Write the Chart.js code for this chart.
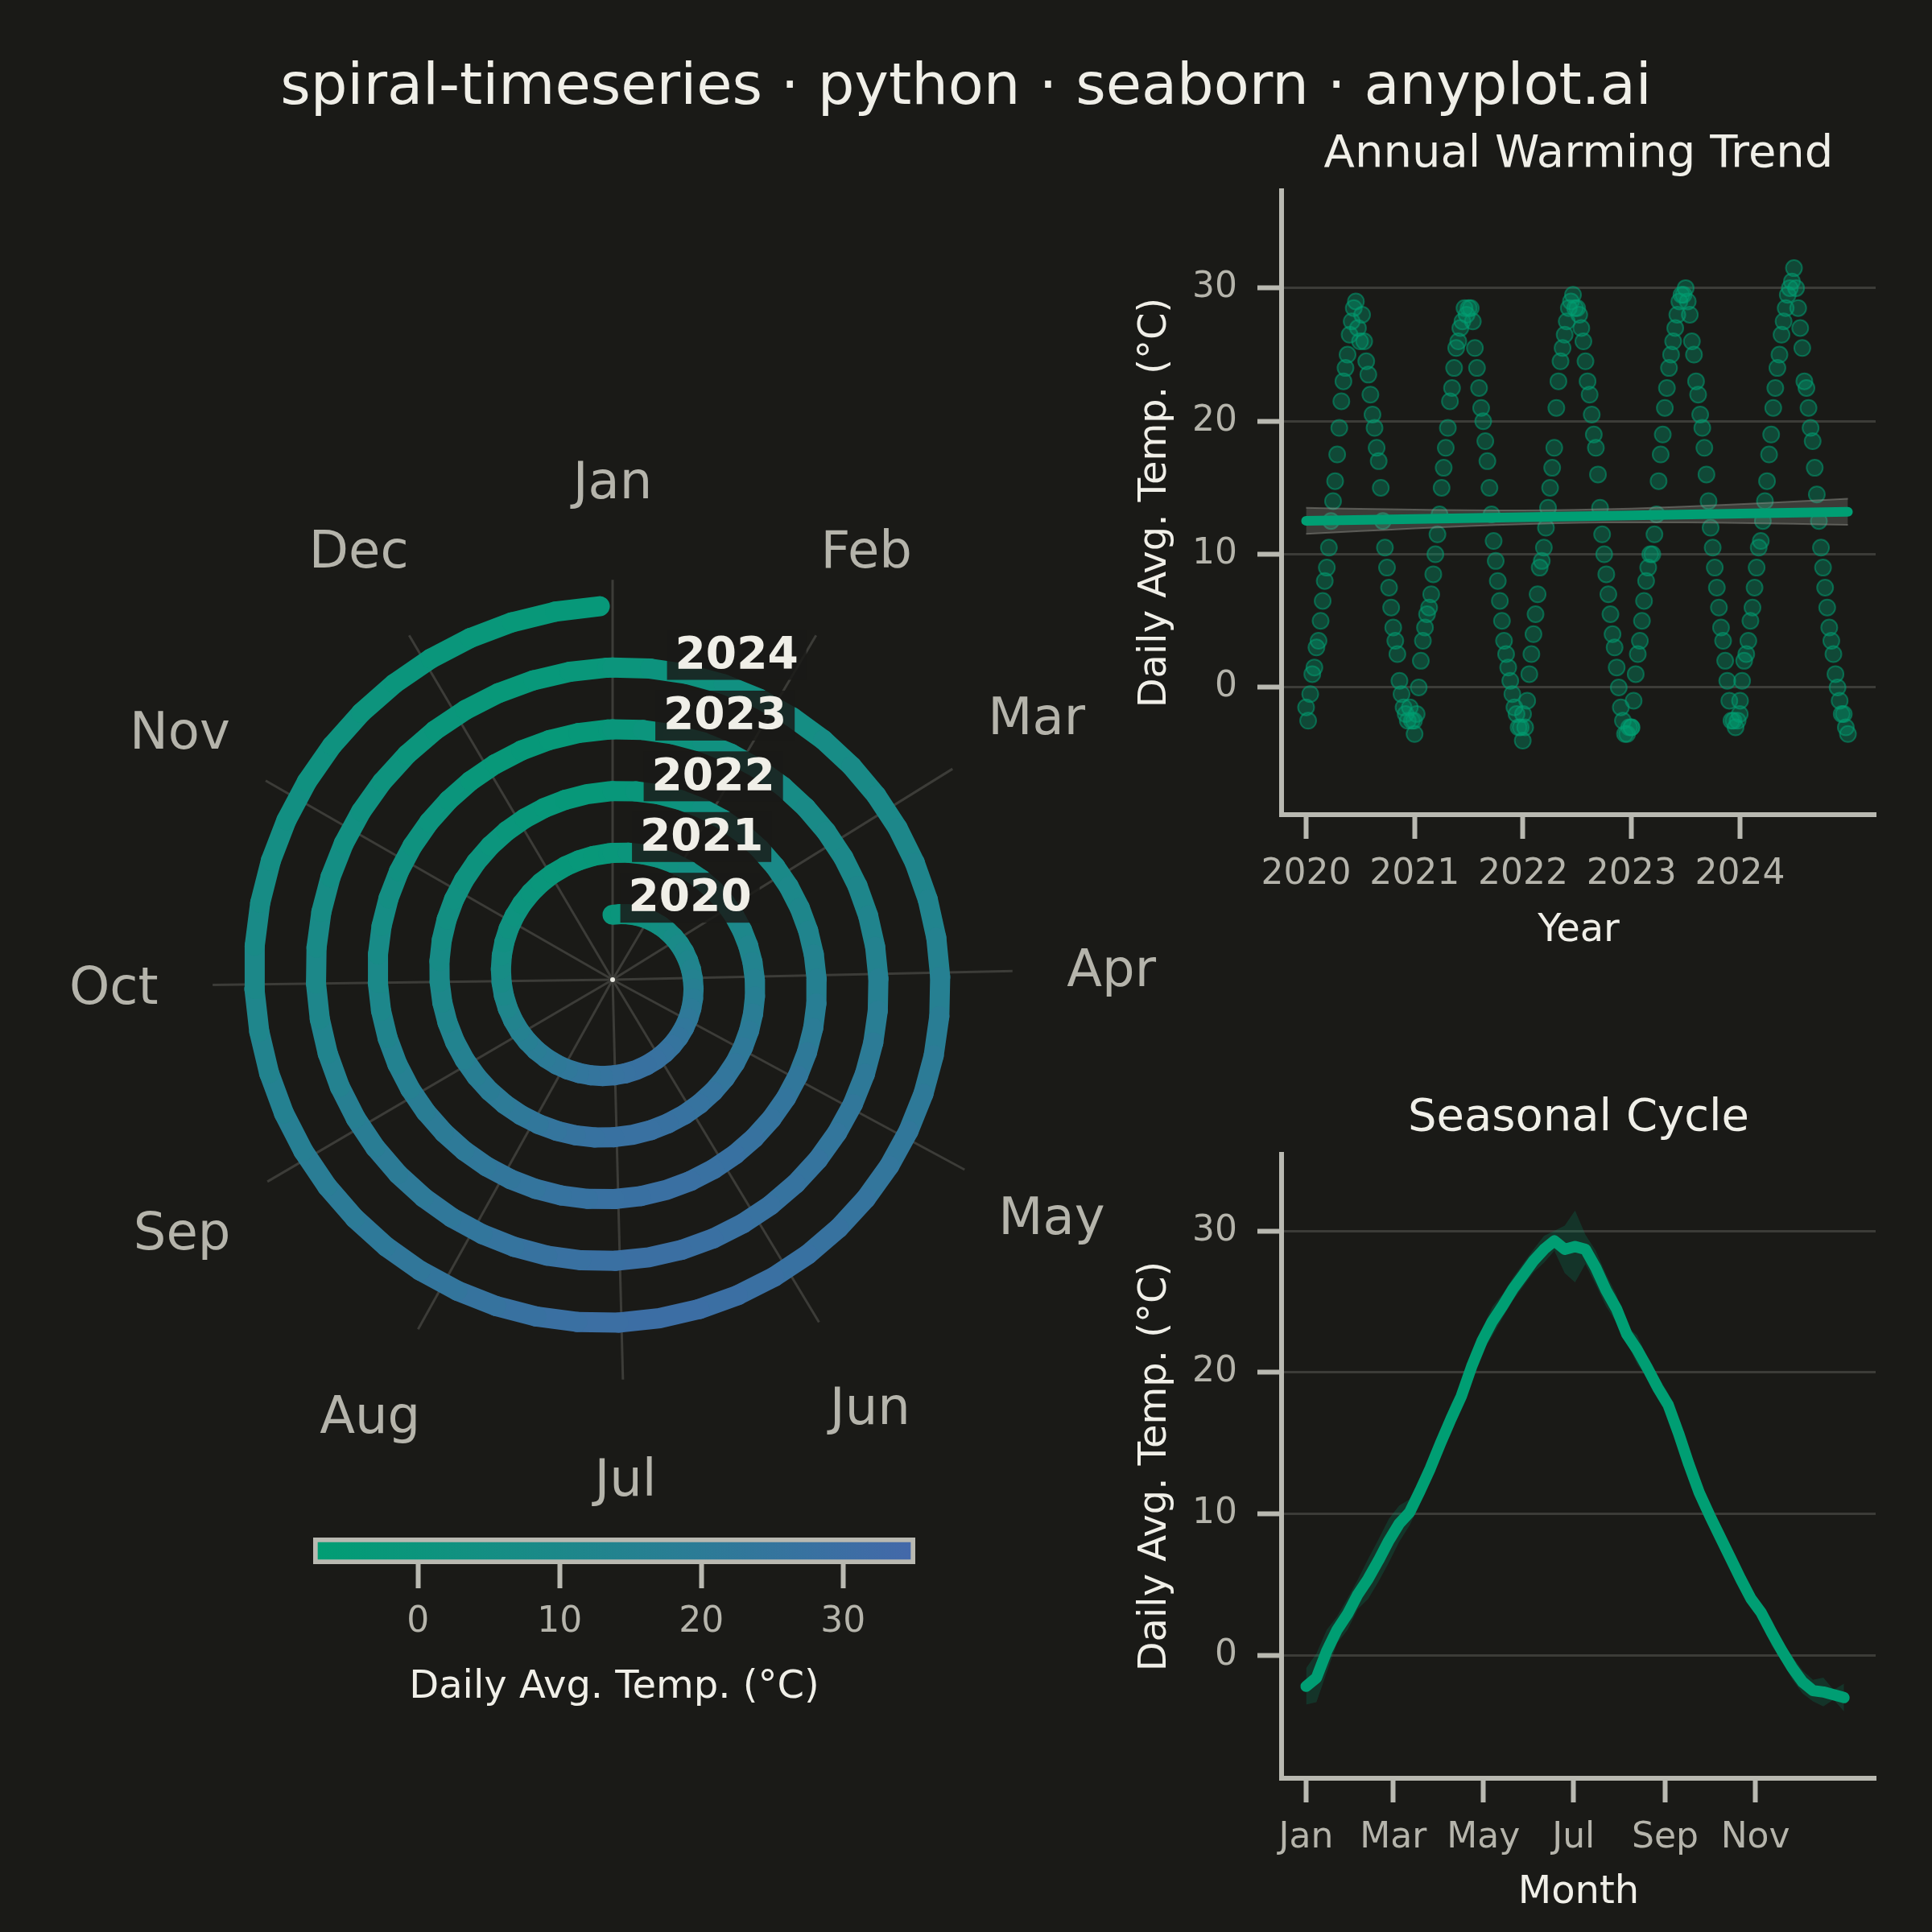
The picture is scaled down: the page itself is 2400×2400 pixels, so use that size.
<!DOCTYPE html>
<html>
<head>
<meta charset="utf-8">
<title>spiral-timeseries</title>
<script src="https://cdn.jsdelivr.net/npm/chart.js@4.4.1/dist/chart.umd.min.js"></script>
<style>
  html, body { margin: 0; padding: 0; background: #1a1a17; }
  body { width: 2400px; height: 2400px; position: relative; overflow: hidden; font-family: 'DejaVu Sans', sans-serif; }
  canvas { position: absolute; }
  #title { position: absolute; left: 0; top: 64px; width: 2400px; line-height: 80px; text-align: center; font-size: 72px; color: #f0efe8; }
</style>
</head>
<body>
<div id="title">spiral-timeseries · python · seaborn · anyplot.ai</div>
<canvas id="spiral" width="1402" height="1402" style="left:60px;top:516px"></canvas>
<canvas id="colorbar" width="950" height="250" style="left:300px;top:1890px"></canvas>
<canvas id="trend" width="1000" height="1056" style="left:1380px;top:144px"></canvas>
<canvas id="season" width="1000" height="1059" style="left:1380px;top:1341px"></canvas>
<script>
const years = [2020, 2021, 2022, 2023, 2024];
const temps2020 = [-1.5, -2.5, -0.5, 1, 1.5, 3, 3.5, 5, 6.5, 8, 9, 10.5, 12.5, 14, 15.5, 17.5, 19.5, 21.5, 23, 24, 25, 26.5, 27.5, 28.5, 29, 27, 26, 28, 26, 24.5, 23.5, 22, 20.5, 19.5, 18, 17, 15, 12.5, 10.5, 9, 7.5, 6, 4.5, 3.5, 2.5, 0.5, -0.5, -1.5, -2, -2.5, -1.5, -2.5, -2.5];
const temps2021 = [-3.5, -2, 0, 2, 3.5, 4.5, 5.5, 6, 7, 8.5, 10, 11.5, 13, 15, 16.5, 18, 19.5, 21.5, 22.5, 24, 25.5, 26, 27, 27.5, 28.5, 28, 28.5, 28.5, 27.5, 25.5, 24, 22.5, 21, 20, 18.5, 17, 15, 13, 11, 9.5, 8, 6.5, 5, 3.5, 2.5, 1.5, 0.5, -0.5, -1.5, -2, -3, -3, -4];
const temps2022 = [-2, -3, -1, 1, 2.5, 4, 5.5, 7, 9, 9.5, 10.5, 12, 13.5, 15, 16.5, 18, 21, 23, 24.5, 25.5, 26.5, 27.5, 28.5, 29, 29.5, 28.5, 28.5, 28, 27, 26, 24.5, 23, 22, 20.5, 19, 18, 16, 13.5, 11.5, 10, 8.5, 7, 5.5, 4, 3, 1.5, 0, -1.5, -2.5, -3.5, -3.5, -3, -3];
const temps2023 = [-3, -1, 1, 2.5, 3.5, 5, 6.5, 8, 9, 10, 10, 11.5, 13, 15.5, 17.5, 19, 21, 22.5, 24, 25, 26, 27, 28, 29, 29.5, 29.5, 30, 29, 28, 26, 25, 23, 22, 20.5, 19.5, 18, 16, 14, 12, 10.5, 9, 7.5, 6, 4.5, 3.5, 2, 0.5, -1, -2.5, -2.5, -3, -2.5, -2];
const temps2024 = [-1, 0.5, 2, 2.5, 3.5, 5, 6, 7.5, 9, 10.5, 11, 12.5, 14, 15.5, 17.5, 19, 21, 22.5, 24, 25, 26.5, 27.5, 28.5, 29.5, 30, 30.5, 31.5, 30, 28.5, 27, 25.5, 23, 22.5, 21, 19.5, 18.5, 16.5, 14.5, 12.5, 10.5, 9, 7.5, 6, 4.5, 3.5, 2.5, 1, 0, -1, -2, -2, -3, -3.5];
const tempsByYear = [temps2020, temps2021, temps2022, temps2023, temps2024];

const tempTicks = [0, 10, 20, 30];
const yearTicks = [2020, 2021, 2022, 2023, 2024];
const monthNames = ['Jan', 'Feb', 'Mar', 'Apr', 'May', 'Jun', 'Jul', 'Aug', 'Sep', 'Oct', 'Nov', 'Dec'];
const monthStartDays = [1, 32, 60, 91, 121, 152, 182, 213, 244, 274, 305, 335];
const seasonTickDays = [1, 60, 121, 182, 244, 305];
const seasonTickNames = ['Jan', 'Mar', 'May', 'Jul', 'Sep', 'Nov'];
const colorLimits = [-7.4, 35.1];

// look
const textColor = '#f0efe8';
const tickColor = '#b5b4ab';
const spineColor = '#b9b9b1';
const gridColor = '#3c3c38';
const green = '#009e73';
const cmapLow = [0, 158, 115];
const cmapHigh = [68, 104, 170];

Chart.defaults.font.family = "'DejaVu Sans', sans-serif";
Chart.defaults.animation = false;

function tempColor(t) {
  let f = (t - colorLimits[0]) / (colorLimits[1] - colorLimits[0]);
  f = Math.max(0, Math.min(1, f));
  const c = cmapLow.map((v, i) => Math.round(v + (cmapHigh[i] - v) * f));
  return 'rgb(' + c.join(',') + ')';
}

const records = [];
years.forEach((yr, yi) => {
  const daysInYear = yr % 4 === 0 ? 366 : 365;
  tempsByYear[yi].forEach((t, k) => {
    const day = 1 + 7 * k;
    records.push({ year: yr, yi: yi, day: day, frac: (day - 1) / daysInYear, t: t });
  });
});

// ---------- spiral ----------
const spiralInner = 1.05;   // radius of 1 Jan 2020, in years
const spokeR = 6.47;
const monthLabelR = 8.07;
const spiralHalf = 9.128;

const spiralPts = records.map(r => {
  const a = 2 * Math.PI * r.frac;
  const rad = spiralInner + r.yi + r.frac;
  return { x: rad * Math.sin(a), y: rad * Math.cos(a) };
});
const smoothT = records.map((r, i) => {
  let s = 0, n = 0;
  for (let j = i - 2; j <= i + 2; j++) {
    if (j >= 0 && j < records.length) { s += records[j].t; n++; }
  }
  return s / n;
});

const spiralDecor = {
  id: 'spiralDecor',
  beforeDatasetsDraw(chart) {
    const { ctx, scales: { x, y } } = chart;
    ctx.save();
    ctx.strokeStyle = gridColor;
    ctx.lineWidth = 3;
    monthStartDays.forEach(d => {
      const a = 2 * Math.PI * (d - 1) / 365;
      ctx.beginPath();
      ctx.moveTo(x.getPixelForValue(0), y.getPixelForValue(0));
      ctx.lineTo(x.getPixelForValue(spokeR * Math.sin(a)), y.getPixelForValue(spokeR * Math.cos(a)));
      ctx.stroke();
    });
    ctx.fillStyle = tickColor;
    ctx.font = "64px 'DejaVu Sans'";
    ctx.textAlign = 'center';
    ctx.textBaseline = 'middle';
    monthNames.forEach((m, i) => {
      const a = 2 * Math.PI * (monthStartDays[i] - 1) / 365;
      ctx.fillText(m, x.getPixelForValue(monthLabelR * Math.sin(a)), y.getPixelForValue(monthLabelR * Math.cos(a)) + 5);
    });
    ctx.fillStyle = '#e8e8e0';
    ctx.beginPath();
    ctx.arc(x.getPixelForValue(0), y.getPixelForValue(0), 3, 0, 2 * Math.PI);
    ctx.fill();
    ctx.restore();
  },
  afterDatasetsDraw(chart) {
    const { ctx, scales: { x, y } } = chart;
    ctx.save();
    ctx.font = "bold 55px 'DejaVu Sans'";
    ctx.textAlign = 'left';
    ctx.textBaseline = 'middle';
    years.forEach((yr, yi) => {
      const rho = spiralInner + yi + 0.3;
      const px = x.getPixelForValue(rho * Math.sin(0.19));
      const py = y.getPixelForValue(rho * Math.cos(0.19));
      const w = ctx.measureText(String(yr)).width;
      ctx.fillStyle = 'rgba(26,26,23,0.85)';
      ctx.fillRect(px - 10, py - 31, w + 20, 62);
      ctx.fillStyle = textColor;
      ctx.fillText(String(yr), px, py + 2);
    });
    ctx.restore();
  }
};

new Chart(document.getElementById('spiral'), {
  type: 'scatter',
  data: {
    datasets: [{
      data: spiralPts,
      showLine: true,
      pointRadius: 0,
      borderWidth: 25,
      borderColor: green,
      borderCapStyle: 'round',
      segment: {
        borderColor: ctx => tempColor((smoothT[ctx.p0DataIndex] + smoothT[ctx.p1DataIndex]) / 2)
      }
    }]
  },
  options: {
    responsive: false,
    devicePixelRatio: 1,
    layout: { padding: 0 },
    plugins: { legend: { display: false }, tooltip: { enabled: false } },
    scales: {
      x: { type: 'linear', min: -spiralHalf, max: spiralHalf, display: false },
      y: { type: 'linear', min: -spiralHalf, max: spiralHalf, display: false }
    }
  },
  plugins: [spiralDecor]
});

// ---------- colorbar ----------
new Chart(document.getElementById('colorbar'), {
  type: 'bar',
  data: {
    labels: [''],
    datasets: [{
      data: [colorLimits.slice()],
      backgroundColor(context) {
        const chart = context.chart;
        if (!chart.chartArea) return tempColor(colorLimits[0]);
        const xs = chart.scales.x;
        const g = chart.ctx.createLinearGradient(xs.getPixelForValue(colorLimits[0]), 0, xs.getPixelForValue(colorLimits[1]), 0);
        g.addColorStop(0, tempColor(colorLimits[0]));
        g.addColorStop(1, tempColor(colorLimits[1]));
        return g;
      },
      borderColor: spineColor,
      borderWidth: 6,
      borderSkipped: false,
      barPercentage: 1,
      categoryPercentage: 1
    }]
  },
  options: {
    indexAxis: 'y',
    responsive: false,
    devicePixelRatio: 1,
    layout: { padding: { left: 89, right: 113, top: 20, bottom: 0 } },
    plugins: { legend: { display: false }, tooltip: { enabled: false } },
    scales: {
      x: {
        type: 'linear', min: colorLimits[0], max: colorLimits[1],
        afterBuildTicks: s => { s.ticks = tempTicks.map(v => ({ value: v })); },
        afterFit: s => { s.height = 197; },
        grid: { drawOnChartArea: false, tickLength: 30, tickWidth: 6, tickColor: spineColor },
        border: { display: false },
        ticks: { color: tickColor, font: { size: 44 }, padding: 16, maxRotation: 0 },
        title: { display: true, text: 'Daily Avg. Temp. (°C)', color: textColor, font: { size: 48 }, padding: { top: 0, bottom: 15 } }
      },
      y: { display: false }
    }
  }
});

// ---------- right panels ----------
function panelOptions(o) {
  return {
    responsive: false,
    devicePixelRatio: 1,
    layout: { padding: { left: 0, right: 50, top: 0, bottom: 0 } },
    plugins: {
      legend: { display: false },
      tooltip: { enabled: false },
      title: {
        display: true, text: o.title, color: textColor, fullSize: false,
        font: { size: 56, weight: 'normal' }, padding: { top: 15, bottom: 11 }
      }
    },
    scales: {
      x: {
        type: 'linear', min: o.xMin, max: o.xMax,
        afterBuildTicks: s => { s.ticks = o.xTicks.map(v => ({ value: v })); },
        afterFit: s => { s.height = o.xAxisHeight; },
        grid: { drawOnChartArea: false, tickLength: 30, tickWidth: 6, tickColor: spineColor },
        border: { color: spineColor, width: 6 },
        ticks: { color: tickColor, font: { size: 44 }, padding: 18, autoSkip: false, maxRotation: 0, callback: o.xLabel },
        title: { display: true, text: o.xTitle, color: textColor, font: { size: 48 }, padding: { top: 0, bottom: o.xTitlePad } }
      },
      y: {
        type: 'linear', min: o.yMin, max: o.yMax,
        afterBuildTicks: s => { s.ticks = tempTicks.map(v => ({ value: v })); },
        afterFit: s => { s.width = 212; },
        grid: { color: gridColor, lineWidth: 3, tickLength: 30, tickWidth: 6, tickColor: spineColor },
        border: { color: spineColor, width: 6 },
        ticks: { color: tickColor, font: { size: 44 }, padding: 25 },
        title: { display: true, text: 'Daily Avg. Temp. (°C)', color: textColor, font: { size: 48 }, padding: { top: 27, bottom: 0 } }
      }
    }
  };
}

// trend: scatter + least squares fit with 95% band
const scatterPts = records.map(r => ({ x: r.year + r.frac, y: r.t }));
const n = scatterPts.length;
const mx = scatterPts.reduce((s, p) => s + p.x, 0) / n;
const my = scatterPts.reduce((s, p) => s + p.y, 0) / n;
let sxx = 0, sxy = 0;
scatterPts.forEach(p => { sxx += (p.x - mx) * (p.x - mx); sxy += (p.x - mx) * (p.y - my); });
const slope = sxy / sxx;
const icpt = my - slope * mx;
let sse = 0;
scatterPts.forEach(p => { const e = p.y - (icpt + slope * p.x); sse += e * e; });
const sRes = Math.sqrt(sse / (n - 2));
const daysPerValue = 7; // each weekly value stands in for a week of daily readings
const x0 = scatterPts[0].x, x1 = scatterPts[n - 1].x;
const fitLine = [{ x: x0, y: icpt + slope * x0 }, { x: x1, y: icpt + slope * x1 }];
const bandUpper = [], bandLower = [];
for (let i = 0; i <= 20; i++) {
  const xv = x0 + (x1 - x0) * i / 20;
  const se = sRes * Math.sqrt(1 / (n * daysPerValue) + (xv - mx) * (xv - mx) / (sxx * daysPerValue));
  bandUpper.push({ x: xv, y: icpt + slope * xv + 1.96 * se });
  bandLower.push({ x: xv, y: icpt + slope * xv - 1.96 * se });
}

new Chart(document.getElementById('trend'), {
  type: 'scatter',
  data: {
    datasets: [
      { data: fitLine, showLine: true, borderColor: green, borderWidth: 12, borderCapStyle: 'round', pointRadius: 0 },
      { data: bandUpper, showLine: true, borderColor: 'rgba(150,150,145,0.45)', borderWidth: 2, pointRadius: 0, fill: '+1', backgroundColor: 'rgba(150,150,145,0.28)' },
      { data: bandLower, showLine: true, borderColor: 'rgba(150,150,145,0.45)', borderWidth: 2, pointRadius: 0 },
      { data: scatterPts, pointRadius: 10, backgroundColor: 'rgba(0,158,115,0.36)', borderColor: 'rgba(0,158,115,0.55)', borderWidth: 2 }
    ]
  },
  options: panelOptions({
    title: 'Annual Warming Trend', xTitle: 'Year', xTitlePad: 15, xAxisHeight: 188,
    xMin: 2019.774, xMax: 2025.25, xTicks: yearTicks, xLabel: v => String(v),
    yMin: -9.56, yMax: 37.3
  })
});

// seasonal cycle: mean over the five years with 95% band
const seasonMean = [], seasonUpper = [], seasonLower = [];
temps2020.forEach((_, k) => {
  const vals = tempsByYear.map(a => a[k]);
  const m = vals.reduce((s, v) => s + v, 0) / vals.length;
  const sd = Math.sqrt(vals.reduce((s, v) => s + (v - m) * (v - m), 0) / (vals.length - 1));
  const ci = 2.776 * sd / Math.sqrt(vals.length);
  const day = 1 + 7 * k;
  seasonMean.push({ x: day, y: m });
  seasonUpper.push({ x: day, y: m + ci });
  seasonLower.push({ x: day, y: m - ci });
});

new Chart(document.getElementById('season'), {
  type: 'scatter',
  data: {
    datasets: [
      { data: seasonMean, showLine: true, borderColor: green, borderWidth: 14, borderCapStyle: 'round', borderJoinStyle: 'round', pointRadius: 0 },
      { data: seasonUpper, showLine: true, borderWidth: 0, pointRadius: 0, fill: '+1', backgroundColor: 'rgba(0,158,115,0.2)' },
      { data: seasonLower, showLine: true, borderWidth: 0, pointRadius: 0 }
    ]
  },
  options: panelOptions({
    title: 'Seasonal Cycle', xTitle: 'Month', xTitlePad: 20, xAxisHeight: 191,
    xMin: -15.6, xMax: 386.4, xTicks: seasonTickDays,
    xLabel: v => seasonTickNames[seasonTickDays.indexOf(v)],
    yMin: -8.7, yMax: 35.4
  })
});
</script>
</body>
</html>
